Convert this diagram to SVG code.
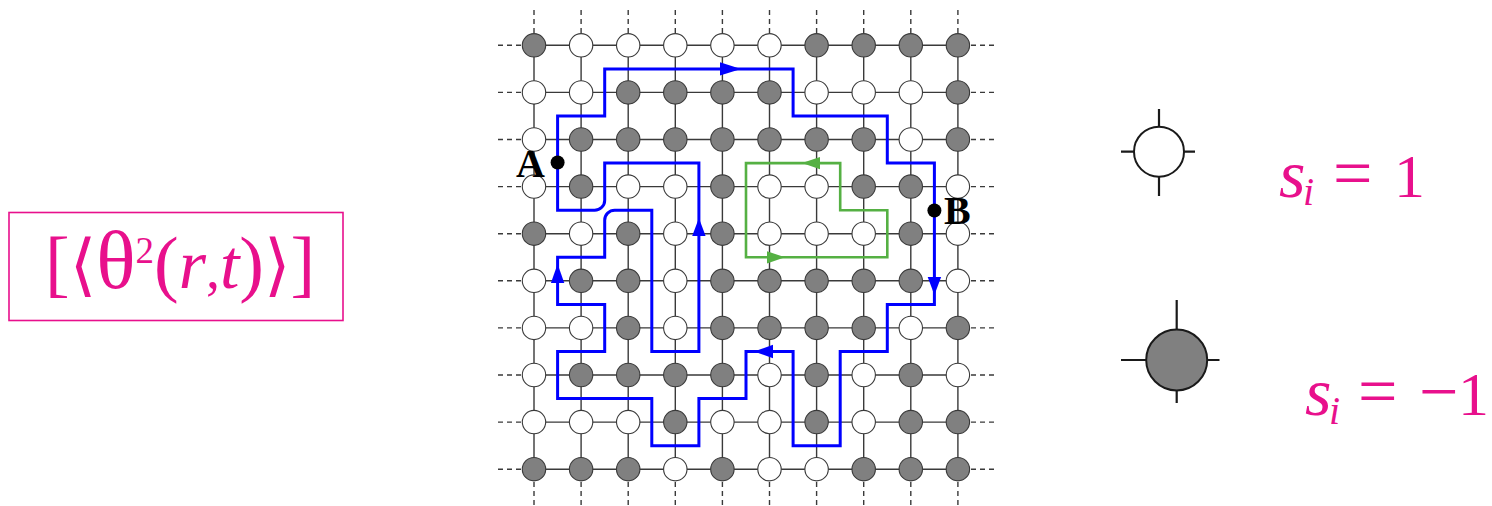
<svg xmlns="http://www.w3.org/2000/svg" width="1492" height="506" viewBox="0 0 1492 506">
<style>
.g{stroke:#3a3a3a;stroke-width:1.4;fill:none}
.d{stroke:#3a3a3a;stroke-width:1.4;fill:none;stroke-dasharray:5 4}
.w{fill:#fff;stroke:#3a3a3a;stroke-width:1.1}
.k{fill:#808080;stroke:#3a3a3a;stroke-width:1.1}
.blue{fill:none;stroke:#0000ff;stroke-width:3;stroke-linejoin:miter}
.green{fill:none;stroke:#55b043;stroke-width:2.6}
.ab{fill:#0000ff}
.ag{fill:#55b043}
.lbl{font-family:"Liberation Serif",serif;font-weight:bold;font-size:40px;fill:#000}
.m{font-family:"Liberation Serif","DejaVu Serif",serif;fill:#e8108c}
.tick{stroke:#1a1a1a;stroke-width:2.2}
</style>
<rect width="1492" height="506" fill="#fff"/>
<g id="formula">
<rect x="9" y="212.5" width="334" height="108" fill="none" stroke="#e8108c" stroke-width="1.6"/>
<text class="m" x="45" y="288"><tspan font-size="74">[</tspan><tspan font-family="DejaVu Serif" font-size="68">⟨</tspan><tspan font-size="82">θ</tspan><tspan font-size="37" dy="-25">2</tspan><tspan font-size="74" dy="25">(</tspan><tspan font-size="70" font-style="italic">r</tspan><tspan font-size="56">,</tspan><tspan font-size="70" font-style="italic">t</tspan><tspan font-size="74">)</tspan><tspan font-family="DejaVu Serif" font-size="68">⟩</tspan><tspan font-size="74">]</tspan></text>
</g>
<g id="lattice-lines">
<path class="g" d="M534,45.3H957.9M534,92.4H957.9M534,139.5H957.9M534,186.6H957.9M534,233.7H957.9M534,280.8H957.9M534,327.9H957.9M534,375H957.9M534,422.1H957.9M534,469.2H957.9"/>
<path class="g" d="M534,45.3V469.2M581.1,45.3V469.2M628.2,45.3V469.2M675.3,45.3V469.2M722.4,45.3V469.2M769.5,45.3V469.2M816.6,45.3V469.2M863.7,45.3V469.2M910.8,45.3V469.2M957.9,45.3V469.2"/>
<path class="d" d="M498,45.3H534M498,92.4H534M498,139.5H534M498,186.6H534M498,233.7H534M498,280.8H534M498,327.9H534M498,375H534M498,422.1H534M498,469.2H534"/>
<path class="d" d="M994,45.3H957.9M994,92.4H957.9M994,139.5H957.9M994,186.6H957.9M994,233.7H957.9M994,280.8H957.9M994,327.9H957.9M994,375H957.9M994,422.1H957.9M994,469.2H957.9"/>
<path class="d" d="M534,10V45.3M581.1,10V45.3M628.2,10V45.3M675.3,10V45.3M722.4,10V45.3M769.5,10V45.3M816.6,10V45.3M863.7,10V45.3M910.8,10V45.3M957.9,10V45.3"/>
<path class="d" d="M534,505V469.2M581.1,505V469.2M628.2,505V469.2M675.3,505V469.2M722.4,505V469.2M769.5,505V469.2M816.6,505V469.2M863.7,505V469.2M910.8,505V469.2M957.9,505V469.2"/>
</g>
<g id="spins">
<circle class="k" cx="534" cy="45.3" r="11.7"/><circle class="w" cx="581.1" cy="45.3" r="11.7"/><circle class="w" cx="628.2" cy="45.3" r="11.7"/><circle class="w" cx="675.3" cy="45.3" r="11.7"/><circle class="w" cx="722.4" cy="45.3" r="11.7"/><circle class="w" cx="769.5" cy="45.3" r="11.7"/><circle class="k" cx="816.6" cy="45.3" r="11.7"/><circle class="k" cx="863.7" cy="45.3" r="11.7"/><circle class="k" cx="910.8" cy="45.3" r="11.7"/><circle class="k" cx="957.9" cy="45.3" r="11.7"/>
<circle class="w" cx="534" cy="92.4" r="11.7"/><circle class="w" cx="581.1" cy="92.4" r="11.7"/><circle class="k" cx="628.2" cy="92.4" r="11.7"/><circle class="k" cx="675.3" cy="92.4" r="11.7"/><circle class="k" cx="722.4" cy="92.4" r="11.7"/><circle class="k" cx="769.5" cy="92.4" r="11.7"/><circle class="w" cx="816.6" cy="92.4" r="11.7"/><circle class="w" cx="863.7" cy="92.4" r="11.7"/><circle class="w" cx="910.8" cy="92.4" r="11.7"/><circle class="k" cx="957.9" cy="92.4" r="11.7"/>
<circle class="w" cx="534" cy="139.5" r="11.7"/><circle class="k" cx="581.1" cy="139.5" r="11.7"/><circle class="k" cx="628.2" cy="139.5" r="11.7"/><circle class="k" cx="675.3" cy="139.5" r="11.7"/><circle class="k" cx="722.4" cy="139.5" r="11.7"/><circle class="k" cx="769.5" cy="139.5" r="11.7"/><circle class="k" cx="816.6" cy="139.5" r="11.7"/><circle class="k" cx="863.7" cy="139.5" r="11.7"/><circle class="w" cx="910.8" cy="139.5" r="11.7"/><circle class="k" cx="957.9" cy="139.5" r="11.7"/>
<circle class="w" cx="534" cy="186.6" r="11.7"/><circle class="k" cx="581.1" cy="186.6" r="11.7"/><circle class="w" cx="628.2" cy="186.6" r="11.7"/><circle class="w" cx="675.3" cy="186.6" r="11.7"/><circle class="k" cx="722.4" cy="186.6" r="11.7"/><circle class="w" cx="769.5" cy="186.6" r="11.7"/><circle class="w" cx="816.6" cy="186.6" r="11.7"/><circle class="k" cx="863.7" cy="186.6" r="11.7"/><circle class="k" cx="910.8" cy="186.6" r="11.7"/><circle class="w" cx="957.9" cy="186.6" r="11.7"/>
<circle class="k" cx="534" cy="233.7" r="11.7"/><circle class="w" cx="581.1" cy="233.7" r="11.7"/><circle class="k" cx="628.2" cy="233.7" r="11.7"/><circle class="w" cx="675.3" cy="233.7" r="11.7"/><circle class="k" cx="722.4" cy="233.7" r="11.7"/><circle class="w" cx="769.5" cy="233.7" r="11.7"/><circle class="w" cx="816.6" cy="233.7" r="11.7"/><circle class="w" cx="863.7" cy="233.7" r="11.7"/><circle class="k" cx="910.8" cy="233.7" r="11.7"/><circle class="w" cx="957.9" cy="233.7" r="11.7"/>
<circle class="w" cx="534" cy="280.8" r="11.7"/><circle class="k" cx="581.1" cy="280.8" r="11.7"/><circle class="k" cx="628.2" cy="280.8" r="11.7"/><circle class="w" cx="675.3" cy="280.8" r="11.7"/><circle class="k" cx="722.4" cy="280.8" r="11.7"/><circle class="k" cx="769.5" cy="280.8" r="11.7"/><circle class="k" cx="816.6" cy="280.8" r="11.7"/><circle class="k" cx="863.7" cy="280.8" r="11.7"/><circle class="k" cx="910.8" cy="280.8" r="11.7"/><circle class="w" cx="957.9" cy="280.8" r="11.7"/>
<circle class="w" cx="534" cy="327.9" r="11.7"/><circle class="w" cx="581.1" cy="327.9" r="11.7"/><circle class="k" cx="628.2" cy="327.9" r="11.7"/><circle class="w" cx="675.3" cy="327.9" r="11.7"/><circle class="k" cx="722.4" cy="327.9" r="11.7"/><circle class="k" cx="769.5" cy="327.9" r="11.7"/><circle class="k" cx="816.6" cy="327.9" r="11.7"/><circle class="k" cx="863.7" cy="327.9" r="11.7"/><circle class="w" cx="910.8" cy="327.9" r="11.7"/><circle class="k" cx="957.9" cy="327.9" r="11.7"/>
<circle class="w" cx="534" cy="375" r="11.7"/><circle class="k" cx="581.1" cy="375" r="11.7"/><circle class="k" cx="628.2" cy="375" r="11.7"/><circle class="k" cx="675.3" cy="375" r="11.7"/><circle class="k" cx="722.4" cy="375" r="11.7"/><circle class="w" cx="769.5" cy="375" r="11.7"/><circle class="k" cx="816.6" cy="375" r="11.7"/><circle class="w" cx="863.7" cy="375" r="11.7"/><circle class="k" cx="910.8" cy="375" r="11.7"/><circle class="w" cx="957.9" cy="375" r="11.7"/>
<circle class="w" cx="534" cy="422.1" r="11.7"/><circle class="w" cx="581.1" cy="422.1" r="11.7"/><circle class="w" cx="628.2" cy="422.1" r="11.7"/><circle class="k" cx="675.3" cy="422.1" r="11.7"/><circle class="w" cx="722.4" cy="422.1" r="11.7"/><circle class="w" cx="769.5" cy="422.1" r="11.7"/><circle class="k" cx="816.6" cy="422.1" r="11.7"/><circle class="w" cx="863.7" cy="422.1" r="11.7"/><circle class="k" cx="910.8" cy="422.1" r="11.7"/><circle class="k" cx="957.9" cy="422.1" r="11.7"/>
<circle class="k" cx="534" cy="469.2" r="11.7"/><circle class="k" cx="581.1" cy="469.2" r="11.7"/><circle class="k" cx="628.2" cy="469.2" r="11.7"/><circle class="w" cx="675.3" cy="469.2" r="11.7"/><circle class="k" cx="722.4" cy="469.2" r="11.7"/><circle class="w" cx="769.5" cy="469.2" r="11.7"/><circle class="w" cx="816.6" cy="469.2" r="11.7"/><circle class="k" cx="863.7" cy="469.2" r="11.7"/><circle class="k" cx="910.8" cy="469.2" r="11.7"/><circle class="k" cx="957.9" cy="469.2" r="11.7"/>
</g>
<g id="connectors">
<path id="blue-loop" class="blue" d="M557.6,163.1V116H604.7V68.9H793.1V116H887.3V163.1H934.4V304.4H887.3V351.5H840.2V445.7H793.1V351.5H746V398.6H698.9V445.7H651.8V398.6H557.6V351.5H604.7V304.4H557.6V257.3H604.7V220.2A10,10 0 0 1 614.7,210.2H651.8V351.5H698.9V163.1H604.7V200.2A10,10 0 0 1 594.7,210.2H557.6Z"/>
<polygon class="ab" points="741,68.9 720,62.2 720,75.6"/>
<polygon class="ab" points="934.4,295 927.7,277 941.1,277"/>
<polygon class="ab" points="754,351.5 773,344.8 773,358.2"/>
<polygon class="ab" points="557.6,264 550.9,283 564.3,283"/>
<polygon class="ab" points="698.9,218 692.2,236 705.6,236"/>
<path id="green-loop" class="green" d="M746,163.1H840.2V210.2H887.3V257.3H746Z"/>
<polygon class="ag" points="802,163.1 820,157 820,169.2"/>
<polygon class="ag" points="785,257.3 767,251.2 767,263.4"/>
</g>
<g id="point-A">
<circle cx="557.6" cy="162.5" r="7" fill="#000"/>
<text class="lbl" x="516" y="177">A</text>
</g>
<g id="point-B">
<circle cx="934.4" cy="210.5" r="7" fill="#000"/>
<text class="lbl" x="944" y="224">B</text>
</g>
<g id="legend-up">
<circle cx="1159" cy="151.7" r="25" fill="#fff" stroke="#1a1a1a" stroke-width="2"/>
<path class="tick" d="M1159,109V126.7M1159,176.7V196M1121,151.7H1134M1184,151.7H1195"/>
<text class="m" x="1279" y="196.5" font-size="68" font-style="italic">s</text>
<text class="m" x="1303" y="205" font-size="40" font-style="italic">i</text>
<text class="m" x="1333" y="196.5" font-size="70">=</text>
<text class="m" x="1394" y="196.5" font-size="62">1</text>
</g>
<g id="legend-down">
<circle cx="1176.7" cy="360" r="30.5" fill="#808080" stroke="#1a1a1a" stroke-width="2"/>
<path class="tick" d="M1176.7,300V329.5M1176.7,390.5V403M1121,360H1146.2M1207.2,360H1219.5"/>
<text class="m" x="1305" y="415" font-size="68" font-style="italic">s</text>
<text class="m" x="1329" y="423.5" font-size="40" font-style="italic">i</text>
<text class="m" x="1358" y="415" font-size="70">=</text>
<text class="m" x="1419" y="415" font-size="70">−</text>
<text class="m" x="1458" y="415" font-size="62">1</text>
</g>
</svg>
